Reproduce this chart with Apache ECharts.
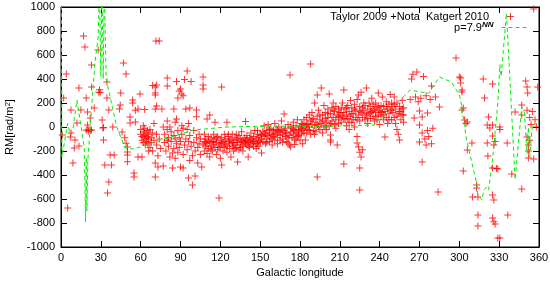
<!DOCTYPE html>
<html><head><meta charset="utf-8">
<script src="https://cdn.jsdelivr.net/npm/echarts@6/dist/echarts.min.js"></script>
<style>html,body{margin:0;padding:0;background:#fff}#c{width:550px;height:281px}</style>
</head><body><div id="c"></div>
<script>
// Tick labels
const xTicks = [0,30,60,90,120,150,180,210,240,270,300,330,360];
const yTicks = [-1000,-800,-600,-400,-200,0,200,400,600,800,1000];

// Observed RM values [galactic longitude, RM]
const rmLow = [
[1,-67],[2,242],[4,442],[5,-675],[7,-83],[7.5,142],[7.5,-50],[9,-300],[10,-175],[10.5,-108],[12,33],[13.5,325],[13.5,-158],[15,142],[17,758],[18,667],[19,242],[19,-25],[20,125],[20,17],[20.5,-35],[21,-20],[22,75],[22,-30],[23,517],[23,333],[23,-25],[25,158],[28,642],[28.5,290],[29,310],[29.5,285],[31,58],[31.5,-8],[32,-5],[32,-108],[33,-317],[34.6,375],[34.6,242],[35,-550],[36,142],[36,-458],[37,-233],[38,-317],[39,0],[40,-233],[44,150],[44.6,183],[45,283],[46,-42],[47,533],[48,-90],[49,442],[49,-135],[50,-167],[50,-208],[50,-233],[50,-290],[52,83],[52,33],[54,225],[54,200],[55,-383],[55,-417],[56,42],
[56,140],[58,-250],[59.5,275],[58,150],[60,-20],[60,-60],[61,-250],[61,-80],[61,-110],[62,-40],[62,-130],[62.5,-90],[63,145],[63,-10],[63,-70],[63.5,-150],[64,-100],[64,-50],[64.5,-120],[65,-30],[65,-80],[65.5,-140],[66,-60],[66,-100],[67,-20],[67,-170],[68,-90],[68,-130],[69,-50],[69,-200],[70,30],[70,-110],[71,333],[71,267],[71,150],[71,-300],[71,-417],[72,-60],[72,-150],[73,-333],[73,-240],[74,-100],[75,-180],[71.5,717],[74,717],[69,345],[72,350],[80,342],[71,283],[72,175],[76,150],[66,-200],[62,10]
];
const rmMid = [
[77,-325],[77,0],[78,-60],[78,-130],[79,-200],[80,408],[80,50],[80,-20],[81,-90],[81,-160],[82,0],[82,-250],[83,-120],[83,-40],[84,-217],[84,-342],[85,150],[85,-70],[85,-180],[86,-260],[86,-100],[87,380],[87,67],[87,-140],[88,242],[88,-30],[88,-210],[89,300],[89,-90],[89,-170],[90,317],[90,-333],[90,-120],[91,275],[91,10],[91,-60],[92,-342],[92,260],[92,-230],[93,395],[93,-150],[94,150],[94,-100],[95,467],[95,-20],[95,-190],[96,-425],[96,30],[96,-120],[97,-280],[97,158],[97,-70],[98,-160],[98,380],[99,-483],[99,-240],[100,-30],[100,-130],[101,-408],[101,-200],[102,142],[102,85],[102,-90],[103,-170],[103,-300],[104,-60],[104,-140],[105,-230],[105,-100],[106,-333],[107,417],[107,350],[107,317],[107,-150],[92,-10],[86,40],[80,-110],
[108,-120],[108,-60],[108,-200],[109,-160],[109,-100],[110,-140],[110,-220],[110,67],[111,-80],[111,-180],[112,-130],[112,-250],[112,100],[113,-160],[113,-90],[114,-200],[114,-120],[115,-60],[115,-150],[116,-170],[116,40],[116,-100],[117,-130],[117,-230],[118,-80],[118,-190],[119,-592],[119,-140],[120,-110],[120,-260],[120,-160],[121,333],[121,-317],[121,-90],[122,-200],[122,-130],[123,-60],[123,-170],[124,-150],[124,-100],[125,-210],[125,40],[126,-120],[126,-80],[127,-180],[127,-140],[128,-100],[128,-250],[129,-60],[129,-160],[130,-130],[130,-200],[131,-90],[131,-150],[132,-110],[132,-170],[133,-292],[133,-130],[134,-70],[134,-190],[135,-150],[135,-100],[136,-120],[136,-40],[137,-160],[137,-200],[138,-90],[138,-130],[139,-110],[139,45],[140,-150],[140,-70],[141,-250],[141,-120],[142,-90],[142,-170],[143,-130],[143,-50],[144,-100],[144,-140],[145,-160],[145,-80],[146,-120],[146,-30],[147,-100],[147,-180],[148,-60],[148,-140],[149,-110],[149,-90],[150,-130],[150,-60],[151,-217],[151,-100],
[109,-130],[111,-110],[113,-190],[115,-120],[117,-90],[119,-170],[121,-140],[123,-120],[125,-160],[127,-110],[129,-130],[131,-180],[133,-100],[135,-170],[137,-110],[139,-140],[141,-160],[143,-110],[145,-120],[147,-140],[149,-160],[126,-60],[132,-60],[140,-100],[148,-30]
];
const rmHigh = [
[152,-40],[152,-120],[153,-80],[153,10],[154,-60],[154,-140],[155,-30],[155,-100],[156,-70],[156,20],[157,-50],[157,-120],[158,-10],[158,-90],[159,-60],[159,-150],[160,-30],[160,-80],[161,30],[161,-110],[162,-50],[162,-20],[163,-90],[163,-140],[164,-40],[164,0],[165,-70],[165,-110],[166,-20],[166,50],[167,-60],[167,-100],[168,108],[168,-30],[169,-80],[169,-10],[170,-50],[170,-120],[171,-133],[171,20],[172,-70],[172.5,433],[173,-40],[173,-167],[174,-10],[174,-90],[175,40],[175,-60],[176,-30],[176,-100],[177,10],[177,-50],[178,-80],[178,60],[179,-20],[179,-40],[180,-108],[180,0],[172,-150],[176,-145],[182,-140],[181,-60],[182,20],[184,-108],
[151,-70],[153,-50],[155,-130],[157,-20],[159,-100],[161,-60],[163,-30],[165,-40],[167,-130],[169,-50],[171,-90],[173,0],[175,-20],[177,-110],[179,-70],
[181,30],[182,-30],[183,60],[183,-10],[184,10],[185,80],[185,-50],[186,30],[186,-20],[187,100],[187,0],[188,525],[188,50],[188,-60],[189,20],[189,120],[190,-30],[190,70],[191,200],[191,10],[192,40],[192,-40],[193,-417],[193,90],[193,267],[194,0],[194,140],[195,60],[195,-20],[196,325],[196,30],[197,100],[197,-50],[198,180],[198,10],[199,70],[199,120],[200,40],[200,-20],[201,150],[201,80],[202,275],[202,10],[203,-67],[203,-108],[203,-125],[203,110],[204,50],[204,160],[205,200],[205,80],[206,20],[206,130],[207,60],[207,170],[208,100],[208,-150],[209,30],[209,150],[210,80],[210,120],
[181,-10],[183,-50],[185,20],[187,-30],[189,60],[191,-60],[193,20],[195,100],[197,50],[199,0],[201,110],[203,30],[205,140],[207,-10],[209,90],
[211,40],[211,160],[212,90],[212,200],[213,308],[213,-308],[213,120],[214,60],[214,150],[215,100],[215,10],[216,180],[216,70],[217,130],[217,-20],[218,90],[218,220],[219,160],[219,40],[220,110],[220,60],[221,190],[221,0],[222,140],[222,80],[223,-80],[223,-133],[223,230],[224,-167],[224,267],[224,100],[225,-342],[225,-525],[225,-210],[225,50],[225,170],[226,-250],[226,120],[226,290],[227,-190],[227,80],[228,200],[228,140],[229,60],[229,180],[230,325],[230,100],[231,150],[231,30],[232,200],[232,110],[233,70],[233,170],[234,130],[234,240],[235,90],[235,190],[236,150],[236,50],
[211,120],[213,70],[215,160],[217,40],[219,110],[221,150],[223,60],[225,130],[227,160],[229,110],[231,70],[233,120],[235,140]
];
const rmEnd = [
[237,120],[237,200],[238,60],[238,160],[239,283],[239,100],[240,140],[240,20],[241,180],[241,90],[242,250],[242,120],[243,60],[243,170],[244,-83],[244,130],[245,210],[245,80],[246,150],[246,30],[247,190],[247,110],[248,270],[248,140],[249,60],[249,200],[250,120],[250,170],[251,250],[251,80],[252,150],[252,30],[253,-20],[253,200],[254,-60],[254,110],[255,-108],[255,170],[256,60],[256,130],[257,220],[257,100],[258,160],[258,40],
[237,90],[239,170],[241,130],[243,100],[245,170],[247,60],[249,140],[251,190],[253,90],[255,130],[257,150],[258,100],
[263,230],[264,400],[265,440],[266,75],[267,250],[268,458],[269,210],[270,133],[270,17],[270,-125],[271,240],[272,83],[272,-292],[272,-50],[273,420],[274,-100],[275,260],[275,-150],[276,117],[276,-30],[277,-80],[278,230],[279,342],[279,-140],[280,-10],[282,250],[284,-542],[285,167],[297.5,575],[300,417],[301,367],[302,308],[302,142],[303,158],[303,-367],[304,58],[305,30],[306,-192],[306,42],[302,292],[301,408],
[309.5,-133],[310,-583],[313,-483],[313,-508],[314,-583],[314,-733],[314,-825],[318,400],[319,242],[321,17],[321,-133],[321.5,-242],[322,83],[323,-8],[325,358],[325,17],[325,-75],[325,-342],[325,-567],[325,-758],[326,-150],[326,-608],[326,-790],[327,-120],[327,-808],[328,-345],[329,-350],[329,-925],[330.5,-925],[330.5,0],[330.5,-20],[336,-133],[336.5,-733],[339.5,-392],[342,125],[347,183],[347,100],[347,-517],[350,383],[351,333],[351.5,283],[351,140],[351,-83],[352,-150],[352,-258],[352,-200],[353,80],[353,-110],[354,20],[355,130],[356,983],[356,-267],[357,60],[358,0],[359,333]
];

// Model curve p=7.9
const modelLine = [
[0.2,1300],[0.7,-250],[5,30],[7,-60],[9,-20],[12,225],[17.5,-170],[18.5,-790],[19,-250],[19.5,-700],[20.2,-275],[25.5,530],[28,750],[29,1200],[30,420],[30.8,1200],[31.8,400],[32.6,1200],[34,400],[42,0],[48,-167],[50,-185],[55,-180],[60,-165],[75,-110],[100,-25],[125,0],[160,8],[200,5],[236,17],[263,308],[277,280],[285,417],[294,375],[300,267],[301,225],[305.5,-108],[313,-467],[314,-575],[317,-608],[318.5,-525],[320.5,-500],[322,-525],[325,-275],[329,200],[330.5,520],[331.5,420],[335.5,950],[342,-440],[347,170],[349,120],[351,-220],[352,0],[353,-250],[355,20],[358.5,30]
];

const FONT = 'Liberation Sans';
const rmData = rmLow.concat(rmMid, rmHigh, rmEnd);
const plusPath = 'path://M0,3H7V4H0ZM3,0H4V7H3Z';
const GREEN = '#00ee00';

const chart = echarts.init(document.getElementById('c'), null, {renderer:'canvas'});
const axBase = {
  axisLine:{show:true, onZero:false, lineStyle:{color:'#000', width:1}},
  axisTick:{show:true, inside:true, length:6, lineStyle:{color:'#000'}},
  splitLine:{show:false}
};
chart.setOption({
  animation:false,
  backgroundColor:'#fff',
  textStyle:{fontFamily:FONT},
  grid:{left:61, right:11, top:7, bottom:34, show:true, borderColor:'#000', borderWidth:1,
        backgroundColor:'transparent', containLabel:false, outerBoundsMode:'none'},
  legend:[
    {data:[{name:'Taylor 2009 +Nota  Katgert 2010', icon:plusPath}], right:36, top:10, padding:0, align:'right', orient:'vertical',
     itemWidth:7, itemHeight:7, selectedMode:false,
     itemStyle:{color:'#ff0000'},
     textStyle:{fontFamily:FONT, fontSize:11, color:'#000', padding:[0,13,0,0], lineHeight:13}},
    {data:['p=7.9'], right:23, top:21, padding:0, align:'right', orient:'vertical',
     itemWidth:25, itemHeight:7, selectedMode:false,
     itemStyle:{opacity:0}, lineStyle:{color:GREEN, width:1, type:[4,3], opacity:1},
     formatter: n => n + '{sup|NN}',
     textStyle:{fontFamily:FONT, fontSize:11, color:'#000', padding:[0,3,0,0], lineHeight:13,
       rich:{sup:{fontFamily:FONT, fontSize:8, fontWeight:'bold', fontStyle:'italic', color:'#000', verticalAlign:'top', lineHeight:13, padding:[0,0,6,0]}}}}
  ],
  xAxis:[
    Object.assign({type:'value', min:xTicks[0], max:xTicks[xTicks.length-1], interval:30, position:'bottom',
      name:'Galactic longitude', nameLocation:'middle', nameGap:20,
      nameTextStyle:{fontFamily:FONT, fontSize:11, color:'#000'},
      axisLabel:{margin:5, fontFamily:FONT, fontSize:11, color:'#000', formatter:v => String(v)}}, axBase),
    Object.assign({type:'value', min:0, max:360, interval:30, position:'top', axisLabel:{show:false}}, axBase)
  ],
  yAxis:[
    Object.assign({type:'value', min:yTicks[0], max:yTicks[yTicks.length-1], interval:200, position:'left',
      name:'RM[rad/m{sup|2}]', nameLocation:'middle', nameGap:44, nameRotate:90,
      nameTextStyle:{fontFamily:FONT, fontSize:11, color:'#000', rich:{sup:{fontFamily:FONT, fontSize:8, color:'#000', verticalAlign:'top', padding:[0,0,5,0]}}},
      axisLabel:{margin:6, fontFamily:FONT, fontSize:11, color:'#000', formatter:v => String(v)}}, axBase),
    Object.assign({type:'value', min:-1000, max:1000, interval:200, position:'right', axisLabel:{show:false}}, axBase)
  ],
  series:[
    {name:'Taylor 2009 +Nota  Katgert 2010', type:'scatter', data:rmData, symbol:plusPath, symbolSize:7,
     itemStyle:{color:'#ff0000'}, xAxisIndex:0, yAxisIndex:0, silent:true},
    {name:'p=7.9', type:'line', data:modelLine, showSymbol:false, symbol:'none', clip:true,
     lineStyle:{color:GREEN, width:1, type:[4,3]}, itemStyle:{color:GREEN}, xAxisIndex:0, yAxisIndex:0, silent:true}
  ]
});
</script></body></html>
